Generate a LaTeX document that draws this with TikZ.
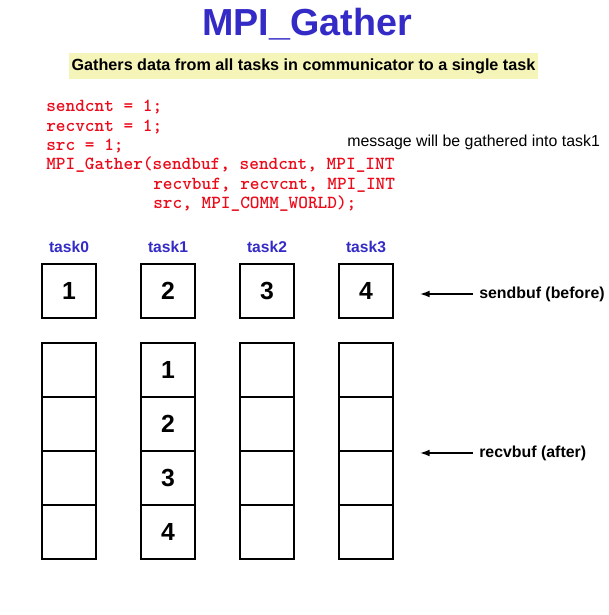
\documentclass[tikz,border=0pt]{standalone}
\usepackage{fontspec}
\setmainfont{Liberation Sans}
\usepackage{tikz}
\usepackage{xcolor}
\usetikzlibrary{arrows.meta}

\definecolor{titleblue}{RGB}{52,43,199}
\definecolor{codered}{RGB}{235,10,25}
\definecolor{noteyellow}{RGB}{245,245,185}

\tikzset{
  cell/.style={draw, line width=0.8pt, minimum size=1.35cm, inner sep=0pt, font=\fontsize{17.6}{20}\selectfont\bfseries},
  tasklbl/.style={anchor=base, inner sep=0pt, text=titleblue, font=\fontsize{11.1}{13}\selectfont\bfseries},
  codeline/.style={anchor=base west, inner sep=0pt, text=codered, font=\fontsize{13.1}{15}\selectfont\ttfamily\bfseries},
  buflbl/.style={anchor=west, inner xsep=0.15cm, inner ysep=0pt, font=\fontsize{11.3}{13}\selectfont\bfseries},
  arr/.style={-{Latex[length=0.24cm,width=0.17cm]}, line width=1pt}
}

\begin{document}
\begin{tikzpicture}[x=0.025cm,y=-0.025cm]
    \useasboundingbox[fill=white] (0,0) rectangle (608,615);
        % heading
        \node[anchor=base, inner sep=0pt, text=titleblue, font=\fontsize{26.8}{30}\selectfont\bfseries] (title) at (307,36) {MPI\_Gather};
        \node[fill=noteyellow, minimum width=11.725cm, minimum height=0.65cm, inner sep=0pt, font=\fontsize{11.5}{13}\selectfont\bfseries] (subtitle) at (303.5,66) {Gathers data from all tasks in communicator to a single task};
        % code
        \node[codeline] (code1) at (46,112) {sendcnt = 1;};
        \node[codeline] (code2) at (46,131.3) {recvcnt = 1;};
        \node[codeline] (code3) at (46,150.6) {src = 1;};
        \node[codeline] (code4) at (46,170) {MPI\_Gather(sendbuf, sendcnt, MPI\_INT};
        \node[codeline] (code5) at (153,189.3) {recvbuf, recvcnt, MPI\_INT};
        \node[codeline] (code6) at (153,208.6) {src, MPI\_COMM\_WORLD);};
        \node[anchor=base west, inner sep=0pt, font=\fontsize{11.3}{13}\selectfont] (note) at (347,147) {message will be gathered into task1};
        % tasks
        \node[tasklbl] (task0) at (69,253) {task0};
        \node[tasklbl] (task1) at (168,253) {task1};
        \node[tasklbl] (task2) at (267,253) {task2};
        \node[tasklbl] (task3) at (366,253) {task3};
        % send buffers
        \node[cell] (send0) at (69,291) {1};
        \node[cell] (send1) at (168,291) {2};
        \node[cell] (send2) at (267,291) {3};
        \node[cell] (send3) at (366,291) {4};
        % receive buffers
        \node[cell] (recv01) at (69,370) {};
        \node[cell] (recv02) at (69,424) {};
        \node[cell] (recv03) at (69,478) {};
        \node[cell] (recv04) at (69,532) {};
        \node[cell] (recv11) at (168,370) {1};
        \node[cell] (recv12) at (168,424) {2};
        \node[cell] (recv13) at (168,478) {3};
        \node[cell] (recv14) at (168,532) {4};
        \node[cell] (recv21) at (267,370) {};
        \node[cell] (recv22) at (267,424) {};
        \node[cell] (recv23) at (267,478) {};
        \node[cell] (recv24) at (267,532) {};
        \node[cell] (recv31) at (366,370) {};
        \node[cell] (recv32) at (366,424) {};
        \node[cell] (recv33) at (366,478) {};
        \node[cell] (recv34) at (366,532) {};
        % buffer labels
        \node[buflbl] (sendlbl) at (473,294) {sendbuf (before)};
        \node[buflbl] (recvlbl) at (473,453) {recvbuf (after)};
        \coordinate (sendtip) at (420,294);
        \coordinate (recvtip) at (420,453);
        \draw[arr] (sendlbl) -- (sendtip);
        \draw[arr] (recvlbl) -- (recvtip);
    \end{tikzpicture}
\end{document}
